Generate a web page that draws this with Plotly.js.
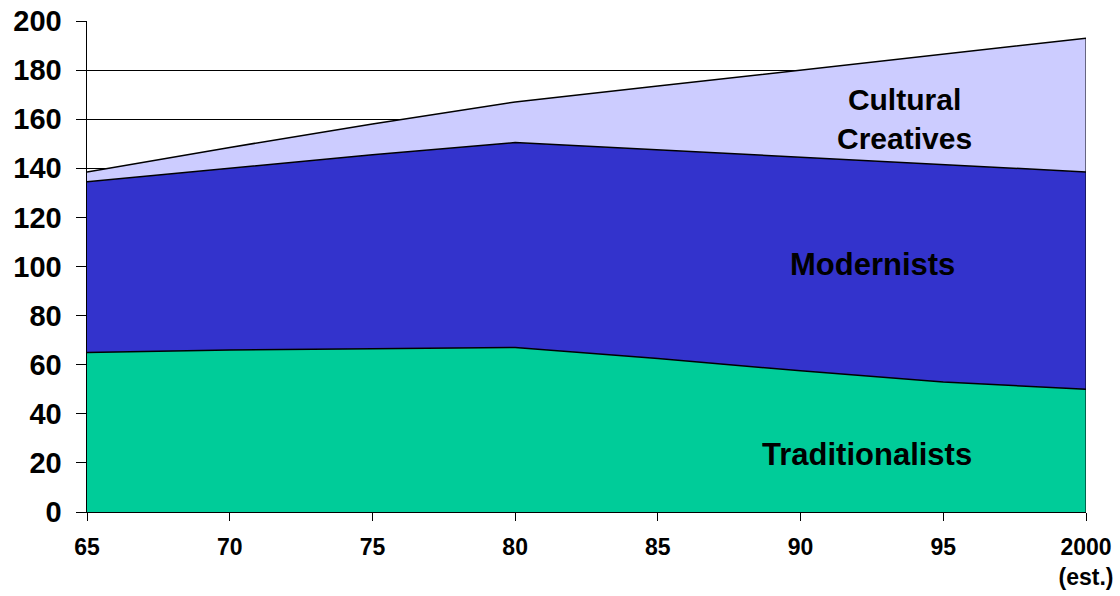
<!DOCTYPE html>
<html>
<head>
<meta charset="utf-8">
<script src="https://cdn.plot.ly/plotly-3.0.1.min.js"></script>
<style>
  html, body { margin: 0; padding: 0; background: #ffffff; }
  #chart { width: 1120px; height: 596px; }
</style>
</head>
<body>
<div id="chart"></div>
<script>
// Categories (years) and tick labels
const years = ['65', '70', '75', '80', '85', '90', '95', '2000'];
const tickLabels = ['65', '70', '75', '80', '85', '90', '95', '2000<br>(est.)'];

// Series values (millions), stacked bottom to top
const traditionalists = [65, 66, 66.5, 67, 62.5, 57.5, 53, 50];
const modernists = [69.5, 74, 79, 83.5, 85, 87, 88.5, 88.5];
const culturalCreatives = [4, 8.5, 12.5, 16.5, 26, 35.5, 45, 54.5];

const seriesNames = ['Traditionalists', 'Modernists', 'Cultural Creatives'];
const seriesColors = ['#00CC99', '#3333CC', '#CCCCFF'];
const seriesValues = [traditionalists, modernists, culturalCreatives];

const FONT = '"Liberation Sans", Arial, sans-serif';

const traces = seriesValues.map((vals, i) => ({
  type: 'scatter',
  mode: 'lines',
  name: seriesNames[i],
  x: years,
  y: vals,
  stackgroup: 'one',
  fillcolor: seriesColors[i],
  line: { color: '#000000', width: 1.5, shape: 'linear' },
  hoverinfo: 'skip'
}));

const lastIdx = years.length - 1;
const lastTotal = seriesValues.reduce((s, v) => s + v[lastIdx], 0);

const layout = {
  width: 1120,
  height: 596,
  margin: { l: 87, r: 34, t: 21, b: 84 },
  paper_bgcolor: '#ffffff',
  plot_bgcolor: '#ffffff',
  showlegend: false,
  hovermode: false,
  font: { family: FONT, color: '#000000' },
  xaxis: {
    type: 'category',
    categoryorder: 'array',
    categoryarray: years,
    range: [0, lastIdx],
    tickvals: years,
    ticktext: tickLabels,
    showgrid: false,
    showline: true,
    linecolor: '#000000',
    linewidth: 1,
    ticks: 'outside',
    ticklen: 8,
    tickwidth: 1,
    tickcolor: '#000000',
    ticklabelstandoff: 6,
    tickfont: { family: FONT, size: 23, color: '#000000', weight: 'bold' },
    zeroline: false
  },
  yaxis: {
    range: [0, 200],
    dtick: 20,
    tick0: 0,
    showgrid: true,
    gridcolor: '#000000',
    gridwidth: 1,
    showline: true,
    linecolor: '#000000',
    linewidth: 1.5,
    ticks: 'outside',
    ticklen: 10,
    tickwidth: 1,
    tickcolor: '#000000',
    ticklabelstandoff: 8,
    tickfont: { family: FONT, size: 29, color: '#000000', weight: 'bold' },
    zeroline: false
  },
  shapes: [{
    type: 'line',
    xref: 'x', yref: 'y',
    x0: lastIdx, x1: lastIdx,
    y0: 0, y1: lastTotal,
    line: { color: '#000000', width: 1 },
    layer: 'above'
  }],
  annotations: [
    {
      text: 'Cultural<br>Creatives',
      xref: 'paper', yref: 'paper',
      x: 0.818, y: 0.8,
      xanchor: 'center', yanchor: 'middle',
      showarrow: false,
      font: { family: FONT, size: 30, color: '#000000', weight: 'bold' }
    },
    {
      text: 'Modernists',
      xref: 'paper', yref: 'paper',
      x: 0.786, y: 0.505,
      xanchor: 'center', yanchor: 'middle',
      showarrow: false,
      font: { family: FONT, size: 31, color: '#000000', weight: 'bold' }
    },
    {
      text: 'Traditionalists',
      xref: 'paper', yref: 'paper',
      x: 0.781, y: 0.118,
      xanchor: 'center', yanchor: 'middle',
      showarrow: false,
      font: { family: FONT, size: 31, color: '#000000', weight: 'bold' }
    }
  ]
};

Plotly.newPlot('chart', traces, layout, { staticPlot: true, displayModeBar: false });
</script>
</body>
</html>
